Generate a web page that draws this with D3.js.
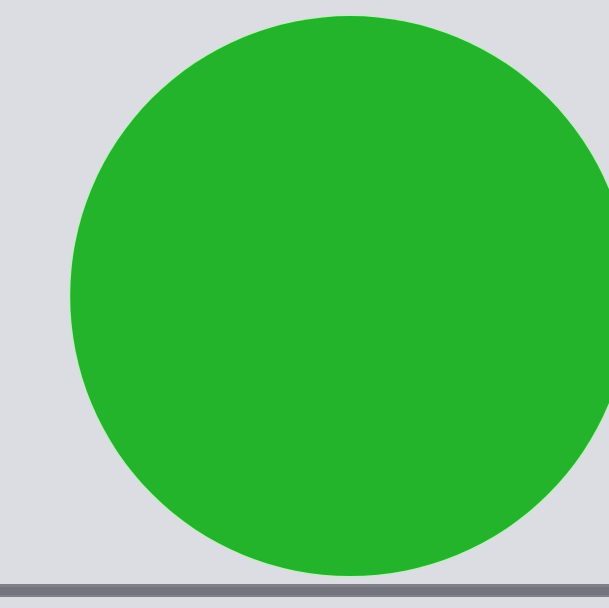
<!DOCTYPE html>
<html>
<head>
<meta charset="utf-8">
<script src="https://cdn.jsdelivr.net/npm/d3@7"></script>
<style>
  html, body { margin: 0; padding: 0; background: #dcdce3; }
  svg { display: block; }
</style>
</head>
<body>
<div id="chart"></div>
<script>
// one dot, value in data units
const categories = ["dot"];
const xValues = [0.575];
const yValues = [0.487];
const sizes = [280];

const width = 609, height = 608;

const svg = d3.select("#chart")
  .append("svg")
  .attr("width", width)
  .attr("height", height);

// background
svg.append("rect")
  .attr("width", width)
  .attr("height", height)
  .attr("fill", "#dcdce3");

const x = d3.scaleLinear().domain([0, 1]).range([0, width]);
const y = d3.scaleLinear().domain([0, 1]).range([0, height]);
const r = d3.scaleLinear().domain([0, 280]).range([0, 280]);

// base line under the dot
svg.append("rect")
  .attr("x", 0)
  .attr("y", 584)
  .attr("width", width)
  .attr("height", 13)
  .attr("fill", "#80808a");
svg.append("rect")
  .attr("x", 0)
  .attr("y", 587)
  .attr("width", width)
  .attr("height", 8)
  .attr("fill", "#74747e");

const pts = categories.map((c, i) => ({ c, x: xValues[i], y: yValues[i], s: sizes[i] }));

// faint light rim
svg.selectAll("circle.rim")
  .data(pts)
  .join("circle")
  .attr("class", "rim")
  .attr("cx", d => x(d.x))
  .attr("cy", d => y(d.y))
  .attr("r", d => r(d.s) + 1.5)
  .attr("fill", "#c4ecc4");

svg.selectAll("circle.dot")
  .data(pts)
  .join("circle")
  .attr("class", "dot")
  .attr("cx", d => x(d.x))
  .attr("cy", d => y(d.y))
  .attr("r", d => r(d.s))
  .attr("fill", "#24b42c");
</script>
</body>
</html>
